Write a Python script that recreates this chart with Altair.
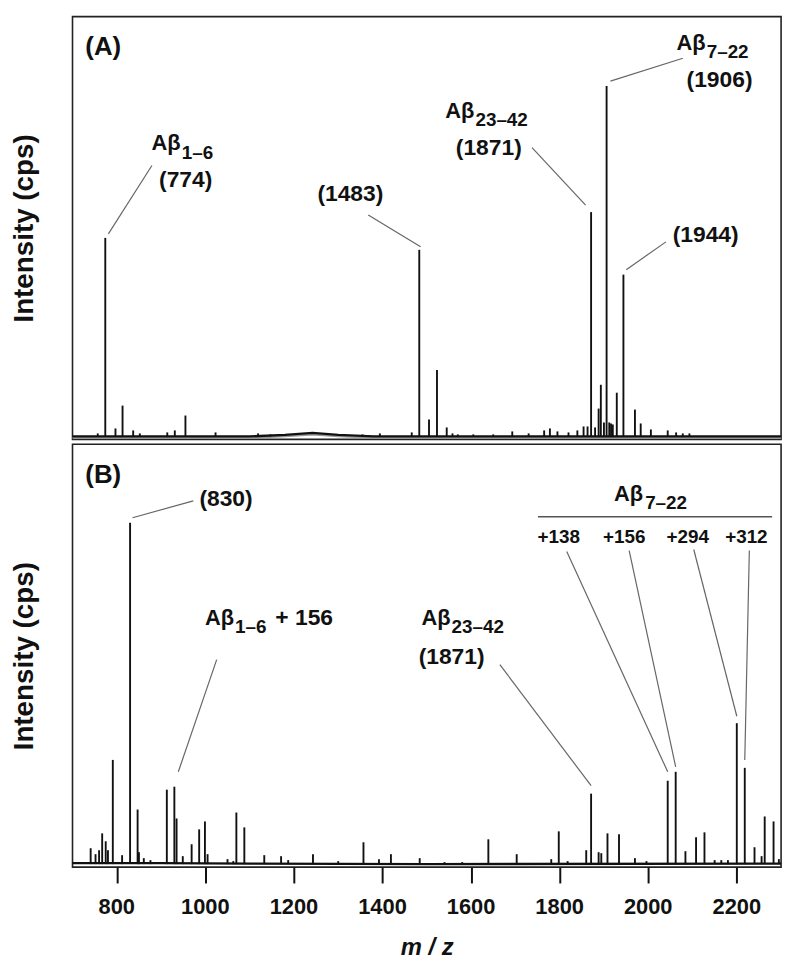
import altair as alt
import pandas as pd

MZ_DOMAIN = [700, 2300]
TICKS = [800, 1000, 1200, 1400, 1600, 1800, 2000, 2200]
TICK_LABELS = ["800", "1000", "1200", "1400", "1600", "1800", "2000", "2200"]

# ---------------- Panel A spectrum (m/z, intensity) ----------------
a_mz = [757, 774, 797, 813, 837, 852, 914, 931, 955, 1023, 1119, 1147,
        1355, 1394, 1466, 1483, 1505, 1523, 1545, 1558, 1570, 1605, 1650,
        1693, 1730, 1765, 1778, 1795, 1820, 1840, 1854, 1863, 1871, 1880,
        1888, 1893, 1900, 1906, 1912, 1916, 1920, 1929, 1944, 1970, 1983,
        2006, 2044, 2063, 2078, 2093]
a_int = [3, 200, 8, 31, 6, 3, 4, 6, 21, 4, 3, 2,
         2, 3, 4, 188, 17, 67, 9, 3, 2, 2, 2,
         5, 3, 6, 8, 5, 4, 6, 10, 10, 226, 9,
         28, 52, 14, 353, 14, 13, 12, 44, 163, 27, 13,
         7, 6, 4, 3, 3]
a_base_mz = [700, 1100, 1180, 1242, 1300, 1380, 2300]
a_base_int = [0, 0, 1.5, 3.5, 1.5, 0, 0]
a_bg_int = [-1.5, -1.5, 0, 2, 0, -1.5, -1.5]

# ---------------- Panel B spectrum ----------------
b_mz = [741, 752, 760, 767, 775, 780, 791, 812, 830, 847, 850, 861, 876,
        913, 930, 935, 949, 969, 986, 999, 1005, 1050, 1063, 1070, 1088,
        1133, 1171, 1187, 1243, 1300, 1357, 1392, 1419, 1484, 1540, 1580,
        1639, 1703, 1781, 1798, 1818, 1860, 1871, 1888, 1894, 1908, 1934,
        1970, 1996, 2044, 2062, 2084, 2108, 2127, 2150, 2165, 2180, 2200,
        2218, 2240, 2256, 2263, 2283, 2295]
b_int = [16, 10, 14, 31, 23, 14, 105, 9, 344, 55, 12, 6, 4,
         75, 78, 46, 8, 20, 35, 43, 10, 5, 3, 52, 37,
         9, 8, 4, 10, 3, 22, 5, 10, 6, 2, 2,
         25, 10, 5, 33, 3, 14, 71, 12, 11, 31, 30,
         6, 3, 84, 93, 13, 27, 32, 4, 4, 4, 142,
         97, 17, 8, 48, 43, 5]
b_base_mz = [700, 900, 1100, 1500, 2300]
b_base_int = [1, 1, 0.5, 0, 0.5]

# ---------------- Annotations panel A ----------------
a_num_text = ["(774)", "(1483)", "(1871)", "(1906)", "(1944)"]
a_num_mz = [955.5, 1327.4, 1640, 2161, 2129.7]
a_num_int = [251, 237, 284, 352, 196]
a_ab_mz = [944, 1607.6, 2129.7]
a_ab_int = [289, 321, 389]
a_sub_text = ["1–6", "23–42", "7–22"]
a_sub_mz = [946.5, 1609.8, 2132]
a_sub_int = [279, 313, 381]
a_lead_mz = [879.3, 1367.8, 1737.6, 2078.2, 2040]
a_lead_int = [273, 223, 291, 381, 196]
a_lead_mz2 = [781, 1486, 1858.6, 1914.6, 1950.4]
a_lead_int2 = [204, 191, 233, 358, 168]

# ---------------- Annotations panel B ----------------
b_num_text = ["(830)", "(1871)"]
b_num_mz = [1046.6, 1556]
b_num_int = [361, 202]
b_left_text = ["+ 156"]
b_left_mz = [1158]
b_left_int = [241]
b_ab_mz = [1065, 1553.8, 1988.5]
b_ab_int = [241, 241, 366]
b_sub_text = ["1–6", "23–42", "7–22"]
b_sub_mz = [1067, 1556, 1993]
b_sub_int = [233, 233, 358]
b_mod_text = ["+138", "+156", "+294", "+312"]
b_mod_mz = [1798, 1946, 2089, 2221.6]
b_mod_int = [324, 324, 324, 324]
b_hline_mz = [1751]
b_hline_mz2 = [2279.8]
b_hline_int = [350]
b_lead_mz = [972.7, 1025.6, 1665, 1816, 1957, 2102.8, 2228.3]
b_lead_int = [366, 206, 201, 315, 316, 317, 316]
b_lead_mz2 = [835.4, 938.9, 1871, 2044, 2062, 2200, 2218]
b_lead_int2 = [349, 93, 79, 93, 98, 149, 105]

FONT = "Liberation Sans"
W, H = 714, 426


def panel(letter, peaks, base, bg, nums, lefts, abs_, subs, mods, hline,
          leads, ydom, show_x):
    if show_x:
        xaxis = alt.Axis(values=TICKS, title="m / z", grid=False, domain=False,
                         ticks=True, tickSize=16, tickWidth=2, tickColor="#111",
                         labels=False,
                         titleFontSize=24, titleFontWeight="bold",
                         titleFontStyle="italic", titleColor="#111",
                         titleFont=FONT, titlePadding=52)
    else:
        xaxis = None
    xs = alt.Scale(domain=MZ_DOMAIN, nice=False, zero=False)
    ys = alt.Scale(domain=ydom, nice=False, zero=False)
    yaxis = alt.Axis(title="Intensity (cps)", labels=False, ticks=False,
                     domain=False, grid=False, titleFontSize=28,
                     titleFontWeight="bold", titleColor="#111", titleFont=FONT,
                     titlePadding=34)
    X = alt.X("mz:Q", scale=xs, axis=xaxis)
    Y = alt.Y("inten:Q", scale=ys, axis=yaxis)

    layers = []
    if bg is not None:
        layers.append(alt.Chart(bg).mark_line(color="#999", strokeWidth=2)
                      .encode(x=X, y=Y))
    layers.append(alt.Chart(base).mark_line(color="#111", strokeWidth=2.4)
                  .encode(x=X, y=Y))
    layers.append(alt.Chart(peaks).mark_rule(color="#111", strokeWidth=1.9)
                  .encode(x=X, y=Y, y2=alt.datum(0)))
    layers.append(alt.Chart(leads).mark_rule(color="#666", strokeWidth=1.2)
                  .encode(x=X, y=Y, x2="mz2:Q", y2="inten2:Q"))
    if hline is not None:
        layers.append(alt.Chart(hline).mark_rule(color="#555", strokeWidth=1.3)
                      .encode(x=X, y=Y, x2="mz2:Q"))
    layers.append(alt.Chart(nums).mark_text(font=FONT, fontSize=23, fontWeight="bold",
                                            color="#111", align="center",
                                            baseline="alphabetic")
                  .encode(x=X, y=Y, text="label:N"))
    if lefts is not None:
        layers.append(alt.Chart(lefts).mark_text(font=FONT, fontSize=23, fontWeight="bold",
                                                 color="#111", align="left",
                                                 baseline="alphabetic")
                      .encode(x=X, y=Y, text="label:N"))
    layers.append(alt.Chart(abs_).mark_text(font=FONT, fontSize=22, fontWeight="bold",
                                            color="#111", align="right",
                                            baseline="alphabetic")
                  .encode(x=X, y=Y, text="label:N"))
    layers.append(alt.Chart(subs).mark_text(font=FONT, fontSize=19, fontWeight="bold",
                                            color="#111", align="left",
                                            baseline="alphabetic")
                  .encode(x=X, y=Y, text="label:N"))
    if mods is not None:
        layers.append(alt.Chart(mods).mark_text(font=FONT, fontSize=19, fontWeight="bold",
                                                color="#111", align="center",
                                                baseline="alphabetic")
                      .encode(x=X, y=Y, text="label:N"))
    if show_x:
        tick_df = pd.DataFrame({"mz": TICKS, "label": TICK_LABELS})
        layers.append(alt.Chart(tick_df).mark_text(font=FONT, fontSize=22, fontWeight="bold",
                                                   color="#111", align="center",
                                                   baseline="middle")
                      .encode(x=X, y=alt.value(H + 40), text="label:N"))
    layers.append(alt.Chart(pd.DataFrame({"label": [letter]}))
                  .mark_text(font=FONT, fontSize=26, fontWeight="bold", color="#111",
                             align="center", baseline="middle")
                  .encode(x=alt.value(31), y=alt.value(31), text="label:N"))
    return alt.layer(*layers).properties(width=W, height=H)


def df(mz, inten, label=None, mz2=None, inten2=None):
    d = {"mz": mz, "inten": inten}
    if label is not None:
        d["label"] = label
    if mz2 is not None:
        d["mz2"] = mz2
    if inten2 is not None:
        d["inten2"] = inten2
    return pd.DataFrame(d)


pa = panel("(A)",
           df(a_mz, a_int), df(a_base_mz, a_base_int), df(a_base_mz, a_bg_int),
           df(a_num_mz, a_num_int, a_num_text), None,
           df(a_ab_mz, a_ab_int, ["Aβ"] * 3), df(a_sub_mz, a_sub_int, a_sub_text),
           None, None,
           df(a_lead_mz, a_lead_int, mz2=a_lead_mz2, inten2=a_lead_int2),
           [-3, 423], False)

pb = panel("(B)",
           df(b_mz, b_int), df(b_base_mz, b_base_int), None,
           df(b_num_mz, b_num_int, b_num_text), df(b_left_mz, b_left_int, b_left_text),
           df(b_ab_mz, b_ab_int, ["Aβ"] * 3), df(b_sub_mz, b_sub_int, b_sub_text),
           df(b_mod_mz, b_mod_int, b_mod_text),
           df(b_hline_mz, b_hline_int, mz2=b_hline_mz2),
           df(b_lead_mz, b_lead_int, mz2=b_lead_mz2, inten2=b_lead_int2),
           [-3, 423], True)

chart = (alt.vconcat(pa, pb, spacing=0)
         .resolve_scale(x="independent", y="independent")
         .properties(padding={"left": 2, "top": 4, "right": 5, "bottom": 0},
                     background="white")
         .configure(font=FONT)
         .configure_view(stroke="#222", strokeWidth=1.6))

chart.save("out.html", embed_options={"renderer": "svg", "actions": False})
